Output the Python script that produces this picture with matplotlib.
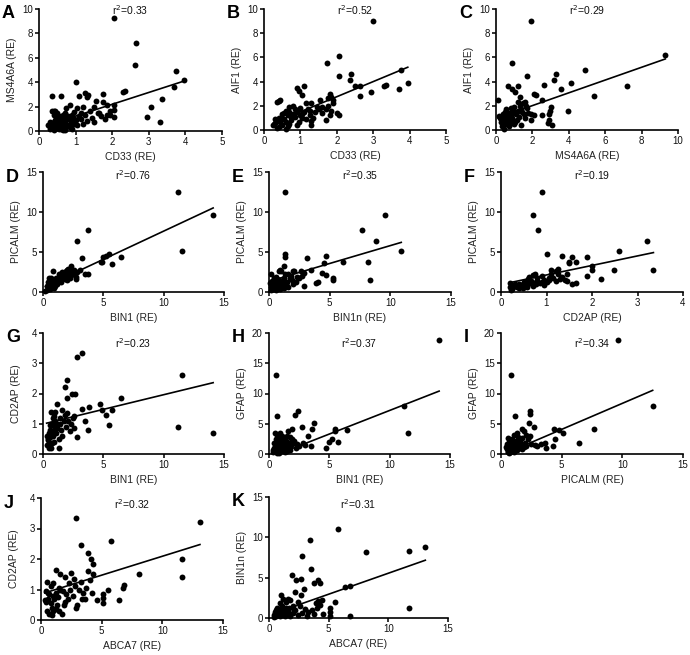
import numpy as np
import matplotlib
matplotlib.use("Agg")
import matplotlib.pyplot as plt

plt.rcParams['font.family'] = ['Liberation Sans', 'DejaVu Sans']

# ---- data (x, y) ----
a_pts = [(2.05, 9.3), (2.65, 7.2), (2.63, 5.4), (3.75, 4.9), (3.7, 3.6), (3.95, 4.15), (3.35, 2.65),
         (3.05, 1.95), (2.95, 1.15), (3.3, 0.7), (2.35, 3.3), (2.3, 3.2), (1.0, 4.0), (0.35, 2.85),
         (0.6, 2.9), (1.1, 2.9), (1.25, 3.1), (1.35, 2.95), (1.3, 2.8), (1.75, 3.05), (1.55, 2.5),
         (1.75, 2.4), (1.85, 2.15), (2.05, 2.1), (2.05, 1.75), (1.95, 1.6), (2.05, 1.15), (1.85, 1.35),
         (1.7, 1.2), (1.8, 0.95), (1.6, 1.5), (1.65, 1.45), (1.95, 1.3), (1.45, 1.1), (1.3, 0.8),
         (1.5, 0.75), (1.25, 1.3), (1.2, 2.0), (1.05, 1.9), (0.95, 1.55), (0.85, 2.1), (0.75, 1.85),
         (0.9, 1.3), (1.1, 1.2), (1.0, 0.9), (1.15, 1.0), (0.35, 1.6), (0.4, 1.3), (0.45, 1.65),
         (0.5, 1.5), (0.35, 0.5), (0.3, 0.3), (0.4, 0.1), (0.5, 0.6), (0.55, 0.2), (0.6, 0.4),
         (0.65, 0.05), (0.7, 0.8), (0.75, 0.3), (0.8, 1.2), (0.6, 1.0), (0.55, 1.2), (0.7, 1.5),
         (0.45, 0.9), (0.4, 0.7), (0.65, 0.6), (0.8, 0.5), (0.85, 0.9), (0.9, 0.2), (0.95, 0.6),
         (0.5, 0.35), (0.6, 0.15), (0.7, 0.1), (0.25, 0.5), (0.3, 0.15), (0.55, 0.8), (0.75, 1.1),
         (0.9, 0.7), (1.05, 0.5), (1.2, 0.6), (0.45, 0.3), (0.65, 1.3), (0.4, 1.6), (0.85, 0.35),
         (1.4, 1.6), (1.5, 2.0), (1.15, 1.5), (0.95, 1.0), (0.3, 0.75), (0.5, 1.05)]
a_fit = (0.97, 0.25)

b_pts = [(3.0, 9.0), (2.05, 6.15), (1.72, 5.5), (2.05, 4.45), (2.4, 4.6), (2.35, 4.1), (2.5, 3.6),
         (2.65, 3.65), (2.65, 2.8), (2.95, 3.1), (3.3, 3.65), (3.35, 3.75), (3.75, 5.0), (3.7, 3.35),
         (3.95, 3.85), (0.9, 3.45), (1.1, 3.6), (1.05, 2.9), (0.95, 3.2), (0.4, 2.4), (0.45, 2.45),
         (0.35, 2.35), (1.3, 2.2), (1.15, 2.25), (1.55, 2.5), (1.75, 2.65), (1.85, 2.75), (1.8, 3.0),
         (1.9, 2.5), (1.75, 2.0), (1.85, 1.6), (1.7, 0.85), (1.8, 1.2), (2.0, 1.4), (2.05, 1.2),
         (1.5, 1.7), (1.4, 1.5), (1.25, 1.2), (1.3, 0.75), (1.3, 0.45), (1.6, 1.9), (1.0, 1.8),
         (0.9, 1.5), (0.8, 2.0), (0.7, 1.9), (0.6, 1.6), (0.5, 1.3), (0.4, 1.0), (0.3, 0.6),
         (0.25, 0.4), (0.35, 0.2), (0.45, 0.7), (0.55, 0.9), (0.65, 1.2), (0.75, 0.8), (0.85, 1.1),
         (0.95, 0.7), (1.05, 1.0), (1.1, 1.5), (1.2, 1.7), (0.5, 0.4), (0.6, 0.1), (0.7, 0.5),
         (0.4, 0.25), (0.3, 0.9), (0.55, 1.4), (0.8, 1.3), (1.0, 1.2), (1.15, 0.9), (0.9, 0.4),
         (1.35, 1.0), (1.45, 1.9), (1.7, 1.7), (1.9, 2.2), (1.6, 1.4), (0.7, 1.45), (0.85, 1.75),
         (0.6, 0.65), (0.75, 1.05), (0.5, 0.95), (1.05, 1.35), (1.25, 1.55), (0.35, 0.8), (0.65, 0.35)]
b_fit = (1.25, 0.25)

c_pts = [(1.9, 9.0), (0.9, 5.5), (1.7, 4.45), (9.3, 6.2), (7.2, 3.65), (5.4, 2.85), (4.9, 5.0),
         (4.1, 3.85), (3.95, 1.6), (3.3, 4.6), (3.2, 4.1), (3.55, 3.35), (2.65, 3.7), (2.1, 3.0),
         (2.2, 2.9), (2.5, 2.45), (2.95, 1.55), (3.0, 1.9), (3.05, 0.4), (2.85, 0.6), (2.9, 1.3),
         (2.9, 0.8), (2.5, 1.2), (2.1, 1.2), (1.95, 0.85), (1.95, 1.35), (0.1, 2.45), (0.65, 3.6),
         (0.9, 3.4), (1.2, 3.6), (1.05, 3.1), (1.3, 2.7), (1.5, 2.2), (1.6, 2.3), (1.7, 1.8),
         (1.65, 2.0), (1.4, 0.45), (1.55, 1.3), (1.2, 1.6), (1.0, 1.9), (0.8, 1.8), (0.7, 1.4),
         (0.6, 1.2), (0.5, 1.0), (0.4, 0.6), (0.35, 0.3), (0.45, 0.1), (0.55, 0.5), (0.3, 1.1),
         (0.2, 1.0), (0.15, 1.15), (0.5, 1.5), (0.6, 0.8), (0.75, 0.9), (0.9, 1.0), (1.1, 1.3),
         (1.25, 1.1), (0.85, 0.6), (0.95, 1.6), (1.05, 0.7), (1.35, 1.7), (1.45, 1.5), (0.4, 1.3),
         (0.7, 0.3), (1.15, 0.85), (0.25, 0.7), (1.6, 1.0), (1.75, 1.4), (0.55, 1.7), (0.8, 1.2),
         (1.0, 0.5), (1.3, 2.0), (0.45, 0.85), (0.65, 1.05), (1.2, 2.3), (0.35, 0.75)]
c_fit = (0.528, 0.96)

d_pts = [(11.2, 12.5), (14.1, 9.65), (11.5, 5.15), (3.75, 7.7), (2.85, 6.4), (3.2, 4.3), (6.45, 4.4),
         (5.7, 3.55), (5.5, 4.75), (5.2, 4.5), (5.0, 4.4), (4.8, 3.75), (4.85, 3.7), (3.75, 2.3),
         (3.5, 2.3), (3.1, 2.7), (2.75, 1.9), (2.7, 1.6), (2.3, 3.2), (2.1, 2.9), (1.9, 2.6),
         (1.7, 2.3), (1.5, 2.1), (1.3, 1.9), (1.1, 1.6), (0.9, 1.4), (0.8, 2.6), (0.7, 1.2),
         (0.5, 0.8), (0.4, 0.5), (0.3, 0.3), (0.2, 0.1), (0.6, 1.0), (1.0, 1.1), (1.2, 1.3),
         (1.4, 1.5), (1.6, 1.7), (1.8, 2.0), (2.0, 2.2), (2.2, 2.4), (2.4, 2.6), (2.6, 2.7),
         (2.5, 2.2), (2.0, 1.5), (1.5, 1.2), (1.0, 0.8), (0.8, 0.6), (0.6, 1.5), (0.5, 1.8),
         (0.7, 1.7), (1.2, 1.0), (1.8, 1.6), (2.2, 1.8), (2.8, 2.5), (0.3, 0.8), (0.9, 0.5),
         (1.3, 2.2), (1.6, 2.5), (2.0, 2.7), (0.4, 1.2), (0.55, 0.35), (0.65, 0.7), (0.75, 0.95),
         (0.85, 1.15), (0.95, 1.25), (1.15, 1.45), (1.35, 1.35), (1.7, 1.9), (2.3, 2.1), (1.05, 1.75)]
d_fit = (0.706, 0.55)

e_pts = [(1.3, 12.5), (9.6, 9.65), (7.7, 7.7), (8.85, 6.4), (10.9, 5.15), (8.2, 3.7), (8.3, 1.55),
         (6.1, 3.7), (5.3, 1.7), (5.25, 1.45), (4.7, 2.1), (4.5, 3.6), (4.7, 4.45), (4.4, 2.35),
         (3.9, 1.1), (4.0, 1.2), (3.1, 4.3), (2.9, 0.7), (3.5, 2.8), (2.9, 2.4), (2.6, 2.6),
         (2.3, 1.9), (2.1, 2.65), (2.0, 2.65), (1.3, 4.8), (1.3, 4.4), (1.2, 3.2), (0.8, 2.6),
         (1.0, 2.6), (1.3, 2.3), (0.2, 2.3), (0.9, 2.8), (1.7, 1.7), (1.9, 1.5), (1.6, 0.6),
         (1.5, 1.3), (1.1, 1.4), (0.7, 1.0), (0.5, 0.5), (0.3, 0.8), (0.2, 0.2), (0.4, 1.5),
         (0.6, 1.9), (0.8, 1.2), (1.0, 0.7), (1.2, 1.8), (1.4, 0.9), (0.1, 1.1), (0.3, 0.4),
         (0.5, 1.2), (0.7, 1.6), (0.9, 0.4), (1.1, 1.0), (1.8, 2.0), (2.2, 1.2), (2.5, 1.7),
         (2.7, 2.0), (0.15, 0.6), (0.35, 1.0), (0.55, 0.3), (0.45, 1.8), (0.65, 0.8), (0.85, 1.5),
         (1.05, 1.2), (1.25, 0.5), (0.25, 1.4), (1.6, 2.2), (2.0, 1.0)]
e_fit = (0.447, 1.33)

f_pts = [(0.9, 12.5), (0.7, 9.65), (0.82, 7.7), (1.0, 4.8), (1.35, 4.5), (1.55, 4.35), (1.5, 3.8),
         (1.5, 3.6), (1.65, 3.75), (1.88, 4.4), (2.6, 5.15), (3.2, 6.4), (3.35, 2.75), (2.48, 2.7),
         (2.2, 1.65), (2.0, 3.2), (2.0, 2.75), (1.88, 1.95), (1.65, 1.15), (1.55, 1.05), (1.45, 2.3),
         (1.4, 1.5), (1.3, 1.6), (1.2, 2.6), (1.1, 2.2), (1.05, 1.8), (0.95, 1.5), (0.9, 2.0),
         (0.8, 1.8), (0.75, 2.2), (0.7, 2.1), (0.6, 1.6), (0.5, 1.3), (0.4, 1.0), (0.3, 0.7),
         (0.2, 1.1), (0.25, 0.4), (0.35, 0.6), (0.45, 0.9), (0.55, 1.2), (0.65, 1.4), (0.85, 1.1),
         (1.0, 1.3), (1.15, 1.7), (1.25, 2.3), (0.2, 0.6), (0.3, 1.0), (0.4, 0.5), (0.5, 0.7),
         (0.6, 1.0), (0.7, 0.8), (0.8, 1.4), (1.1, 2.7), (1.25, 2.9), (0.9, 1.2), (1.35, 1.9),
         (0.22, 0.3), (0.28, 0.85), (0.38, 0.75), (0.48, 0.45), (0.58, 0.65), (0.68, 1.25),
         (0.78, 1.0), (0.95, 0.9), (1.05, 1.55), (1.2, 1.35), (1.45, 1.4), (0.62, 1.9)]
f_fit = (1.19, 0.94)

g_pts = [(3.25, 3.35), (2.85, 3.2), (11.5, 2.6), (11.2, 0.9), (14.1, 0.7), (2.0, 2.45), (1.8, 2.2),
         (2.4, 2.0), (2.65, 2.0), (1.95, 1.85), (3.2, 1.5), (3.8, 1.55), (3.75, 0.8), (2.85, 0.55),
         (4.75, 1.65), (4.9, 1.45), (5.2, 1.3), (5.5, 0.95), (5.75, 1.45), (6.45, 1.85), (3.5, 1.1),
         (1.2, 1.65), (1.6, 1.45), (1.0, 1.4), (0.7, 1.4), (2.0, 1.35), (2.6, 1.25), (2.6, 0.85),
         (2.2, 0.75), (1.3, 0.2), (0.5, 0.2), (0.4, 0.5), (0.6, 0.3), (0.8, 0.6), (1.0, 0.9),
         (1.2, 1.0), (1.5, 0.8), (1.7, 1.1), (1.9, 0.9), (2.3, 1.0), (0.9, 0.4), (0.6, 0.8),
         (0.7, 1.0), (0.5, 0.7), (0.8, 1.2), (1.1, 0.7), (1.4, 1.2), (0.3, 0.3), (0.6, 0.55),
         (0.9, 0.8), (1.0, 1.1), (0.75, 0.35), (1.6, 0.6), (0.85, 0.95), (1.8, 1.3), (1.3, 0.5),
         (0.45, 0.45), (2.1, 1.1), (0.55, 0.95), (0.65, 0.65), (0.95, 1.25), (1.15, 0.85),
         (0.35, 0.6), (0.7, 0.2), (1.45, 1.0), (2.45, 1.2)]
g_fit = (0.097, 0.99)

h_pts = [(14.1, 18.9), (0.55, 13.0), (11.2, 8.0), (11.5, 3.4), (0.7, 6.3), (2.4, 7.1), (2.15, 6.4),
         (2.7, 4.5), (3.7, 5.1), (3.6, 4.1), (1.9, 4.1), (1.55, 3.8), (3.2, 2.9), (5.5, 4.1),
         (5.5, 3.8), (6.45, 4.0), (5.2, 2.4), (4.95, 2.0), (5.75, 2.0), (4.7, 1.0), (3.45, 1.4),
         (3.0, 1.5), (2.5, 1.3), (2.8, 1.8), (0.5, 3.5), (0.7, 3.2), (0.9, 3.5), (1.1, 3.0),
         (1.5, 3.0), (1.7, 2.8), (1.9, 2.5), (2.1, 2.2), (0.6, 2.5), (0.8, 2.0), (1.0, 1.8),
         (1.2, 1.5), (1.4, 1.2), (1.6, 1.0), (1.8, 1.5), (2.0, 1.8), (0.4, 1.0), (0.5, 0.5),
         (0.6, 1.5), (0.7, 0.2), (0.8, 0.8), (0.9, 1.2), (1.0, 0.5), (1.2, 0.8), (1.4, 2.2),
         (1.6, 1.8), (2.2, 1.0), (0.3, 0.3), (0.45, 1.8), (0.95, 2.6), (1.3, 0.3), (1.75, 0.6),
         (2.3, 1.6), (0.65, 0.9), (1.15, 2.4), (0.35, 0.7), (0.55, 1.2), (0.75, 1.4), (1.05, 1.1),
         (1.35, 1.7), (1.85, 2.0), (0.85, 0.1), (1.5, 0.5)]
h_fit = (0.78, -0.6)

i_pts = [(9.65, 18.9), (0.8, 13.0), (12.5, 8.0), (1.15, 6.3), (2.4, 7.1), (2.35, 6.6), (2.3, 5.1),
         (2.7, 4.5), (7.7, 4.1), (4.4, 4.1), (4.8, 4.0), (5.15, 3.4), (4.45, 2.4), (4.25, 1.4),
         (6.4, 1.9), (3.7, 1.0), (3.6, 1.9), (3.3, 1.7), (2.8, 1.5), (2.4, 2.9), (1.9, 3.8),
         (1.7, 4.1), (1.3, 3.5), (1.1, 3.2), (0.9, 2.5), (0.7, 2.0), (0.5, 1.6), (0.45, 1.2),
         (0.6, 0.8), (0.75, 0.3), (0.9, 1.0), (1.0, 1.5), (1.2, 2.2), (1.4, 2.8), (1.6, 2.0),
         (1.8, 1.5), (2.0, 1.8), (2.2, 2.5), (1.5, 1.0), (1.3, 0.7), (1.1, 0.4), (0.8, 1.6),
         (0.6, 2.6), (1.9, 1.1), (2.5, 1.6), (3.0, 1.4), (1.4, 1.5), (0.9, 0.6), (1.7, 2.6),
         (2.1, 3.2), (0.55, 0.4), (0.65, 1.2), (0.85, 1.9), (1.05, 0.8), (1.25, 1.3), (1.55, 1.7),
         (1.75, 0.9), (2.05, 1.3), (0.5, 0.9), (1.15, 1.8), (1.45, 2.3), (0.7, 0.15)]
i_fit = (0.86, -0.23)

j_pts = [(2.9, 3.35), (13.1, 3.2), (5.75, 2.6), (3.3, 2.45), (3.85, 2.2), (4.1, 2.0), (4.25, 1.85),
         (11.6, 2.0), (11.6, 1.4), (8.1, 1.5), (6.8, 1.15), (6.75, 1.05), (6.4, 0.65), (5.5, 1.0),
         (5.1, 0.85), (5.1, 0.72), (5.15, 0.55), (4.65, 0.65), (4.3, 1.5), (4.0, 1.3), (3.7, 1.05),
         (3.6, 0.7), (3.4, 0.7), (3.0, 0.5), (2.9, 0.4), (2.7, 1.35), (2.5, 1.55), (2.3, 1.2),
         (2.0, 1.4), (1.6, 1.5), (1.25, 1.65), (0.5, 1.25), (0.8, 1.1), (1.0, 1.2), (1.5, 1.05),
         (1.8, 0.95), (2.1, 0.85), (2.4, 1.0), (1.2, 0.9), (0.6, 0.9), (0.4, 0.6), (0.5, 0.3),
         (0.7, 0.2), (0.9, 0.4), (1.1, 0.7), (1.3, 0.5), (1.5, 0.3), (1.7, 0.2), (0.6, 0.7),
         (0.8, 0.55), (1.0, 0.8), (1.4, 0.75), (0.3, 0.65), (0.45, 0.95), (1.2, 0.35), (2.0, 0.6),
         (2.6, 0.8), (3.1, 1.0), (3.5, 0.9), (3.9, 1.6), (1.9, 0.5), (0.9, 0.15), (1.6, 1.0),
         (2.2, 0.7), (3.3, 1.25), (2.8, 1.1), (4.2, 0.9), (0.7, 0.85), (1.0, 0.3)]
j_fit = (0.124, 0.85)

k_pts = [(5.75, 11.0), (3.45, 9.65), (2.75, 7.7), (3.5, 6.1), (1.9, 5.3), (2.25, 4.75), (2.65, 4.8),
         (3.75, 4.3), (4.1, 4.7), (4.25, 4.4), (2.9, 3.6), (2.7, 2.8), (2.2, 3.2), (8.1, 8.2),
         (11.7, 8.3), (13.1, 8.8), (6.4, 3.9), (6.8, 4.0), (5.5, 2.0), (11.7, 1.3), (6.8, 0.25),
         (5.1, 1.2), (5.1, 0.7), (5.1, 0.3), (4.5, 0.5), (4.3, 1.6), (4.1, 2.1), (3.9, 1.8),
         (3.6, 1.0), (3.3, 0.8), (3.0, 1.1), (2.6, 1.5), (2.4, 2.0), (2.2, 1.0), (2.0, 1.5),
         (1.8, 2.2), (1.6, 2.4), (1.4, 2.0), (1.2, 2.4), (1.0, 2.8), (0.9, 1.8), (0.7, 1.3),
         (0.5, 0.8), (0.4, 0.4), (0.6, 0.2), (0.8, 0.6), (1.0, 1.0), (1.2, 0.5), (1.4, 1.2),
         (1.6, 0.8), (1.8, 0.3), (2.0, 0.6), (2.4, 0.4), (2.8, 0.6), (3.2, 0.2), (3.8, 0.5),
         (4.0, 1.2), (4.4, 2.2), (0.6, 1.0), (1.1, 1.5), (1.3, 0.2), (0.9, 0.3), (1.5, 0.6),
         (2.1, 1.0), (0.45, 0.15), (0.7, 0.5), (1.25, 0.9), (0.55, 0.55), (0.85, 1.1), (1.7, 1.3)]
k_fit = (0.52, 0.35)

# panel spec: letter, points, fit, x label, y label, x max, x step, y max, y step, r2 text
panels = [
    ('A', a_pts, a_fit, 'CD33 (RE)', 'MS4A6A (RE)', 5, 1, 10, 2, '0.33'),
    ('B', b_pts, b_fit, 'CD33 (RE)', 'AIF1 (RE)', 5, 1, 10, 2, '0.52'),
    ('C', c_pts, c_fit, 'MS4A6A (RE)', 'AIF1 (RE)', 10, 2, 10, 2, '0.29'),
    ('D', d_pts, d_fit, 'BIN1 (RE)', 'PICALM (RE)', 15, 5, 15, 5, '0.76'),
    ('E', e_pts, e_fit, 'BIN1n (RE)', 'PICALM (RE)', 15, 5, 15, 5, '0.35'),
    ('F', f_pts, f_fit, 'CD2AP (RE)', 'PICALM (RE)', 4, 1, 15, 5, '0.19'),
    ('G', g_pts, g_fit, 'BIN1 (RE)', 'CD2AP (RE)', 15, 5, 4, 1, '0.23'),
    ('H', h_pts, h_fit, 'BIN1 (RE)', 'GFAP (RE)', 15, 5, 20, 5, '0.37'),
    ('I', i_pts, i_fit, 'PICALM (RE)', 'GFAP (RE)', 15, 5, 20, 5, '0.34'),
    ('J', j_pts, j_fit, 'ABCA7 (RE)', 'CD2AP (RE)', 15, 5, 4, 1, '0.32'),
    ('K', k_pts, k_fit, 'ABCA7 (RE)', 'BIN1n (RE)', 15, 5, 15, 5, '0.31'),
]

# axes boxes in pixels: left, right, top, bottom
boxes = [(39, 222, 9, 131), (264, 446, 9, 130), (496, 678, 9, 130),
         (43, 224, 172, 292), (269, 451, 172, 292), (501, 683, 172, 292),
         (43, 224, 333, 454), (269, 450, 333, 454), (501, 683, 333, 454),
         (41, 223, 498, 620), (269, 448, 497, 618)]
r2_drop = [1, 1, 1, 3, 3, 3, 10, 10, 10, 6, 7]

W, H = 690, 655
fig = plt.figure(figsize=(W / 100, H / 100), dpi=100)

for (letter, pts, fit, xl, yl, xmax, xstep, ymax, ystep, r2), box, drop in zip(panels, boxes, r2_drop):
    L, R, T, B = box
    ax = fig.add_axes([L / W, 1 - B / H, (R - L) / W, (B - T) / H])
    pts = np.array(pts)
    ax.scatter(pts[:, 0], pts[:, 1], s=18, c='black', linewidths=0, clip_on=False, zorder=3)
    xs = np.array([pts[:, 0].min(), pts[:, 0].max()])
    ax.plot(xs, fit[0] * xs + fit[1], color='black', lw=1.2, zorder=4)

    ax.set_xlim(0, xmax)
    ax.set_ylim(0, ymax)
    ax.set_xticks(np.arange(0, xmax + 0.01, xstep))
    ax.set_yticks(np.arange(0, ymax + 0.01, ystep))
    for s in ['top', 'right']:
        ax.spines[s].set_visible(False)
    for s in ['left', 'bottom']:
        ax.spines[s].set_linewidth(1.2)
    ax.tick_params(length=3, width=1.2, labelsize=7, pad=1.5, colors='#111111')

    ax.set_xlabel(xl, fontsize=7.5, color='#222222')
    ax.set_ylabel(yl, fontsize=7.5, color='#222222')
    ax.xaxis.set_label_coords(0.5, -26 / (B - T))
    ax.xaxis.label.set_va('center')
    ax.yaxis.set_label_coords(-27 / (R - L), 0.5)
    ax.yaxis.label.set_va('center')

    ax.text(0.5, 1 - drop / (B - T), 'r$^2$=' + r2, transform=ax.transAxes,
            ha='center', va='center', fontsize=7.5, color='#111111')
    fig.text((L - 37) / W, 1 - (T + 5) / H, letter, fontsize=13, fontweight='bold',
             ha='left', va='center')

fig.savefig('out.png', dpi=100)
